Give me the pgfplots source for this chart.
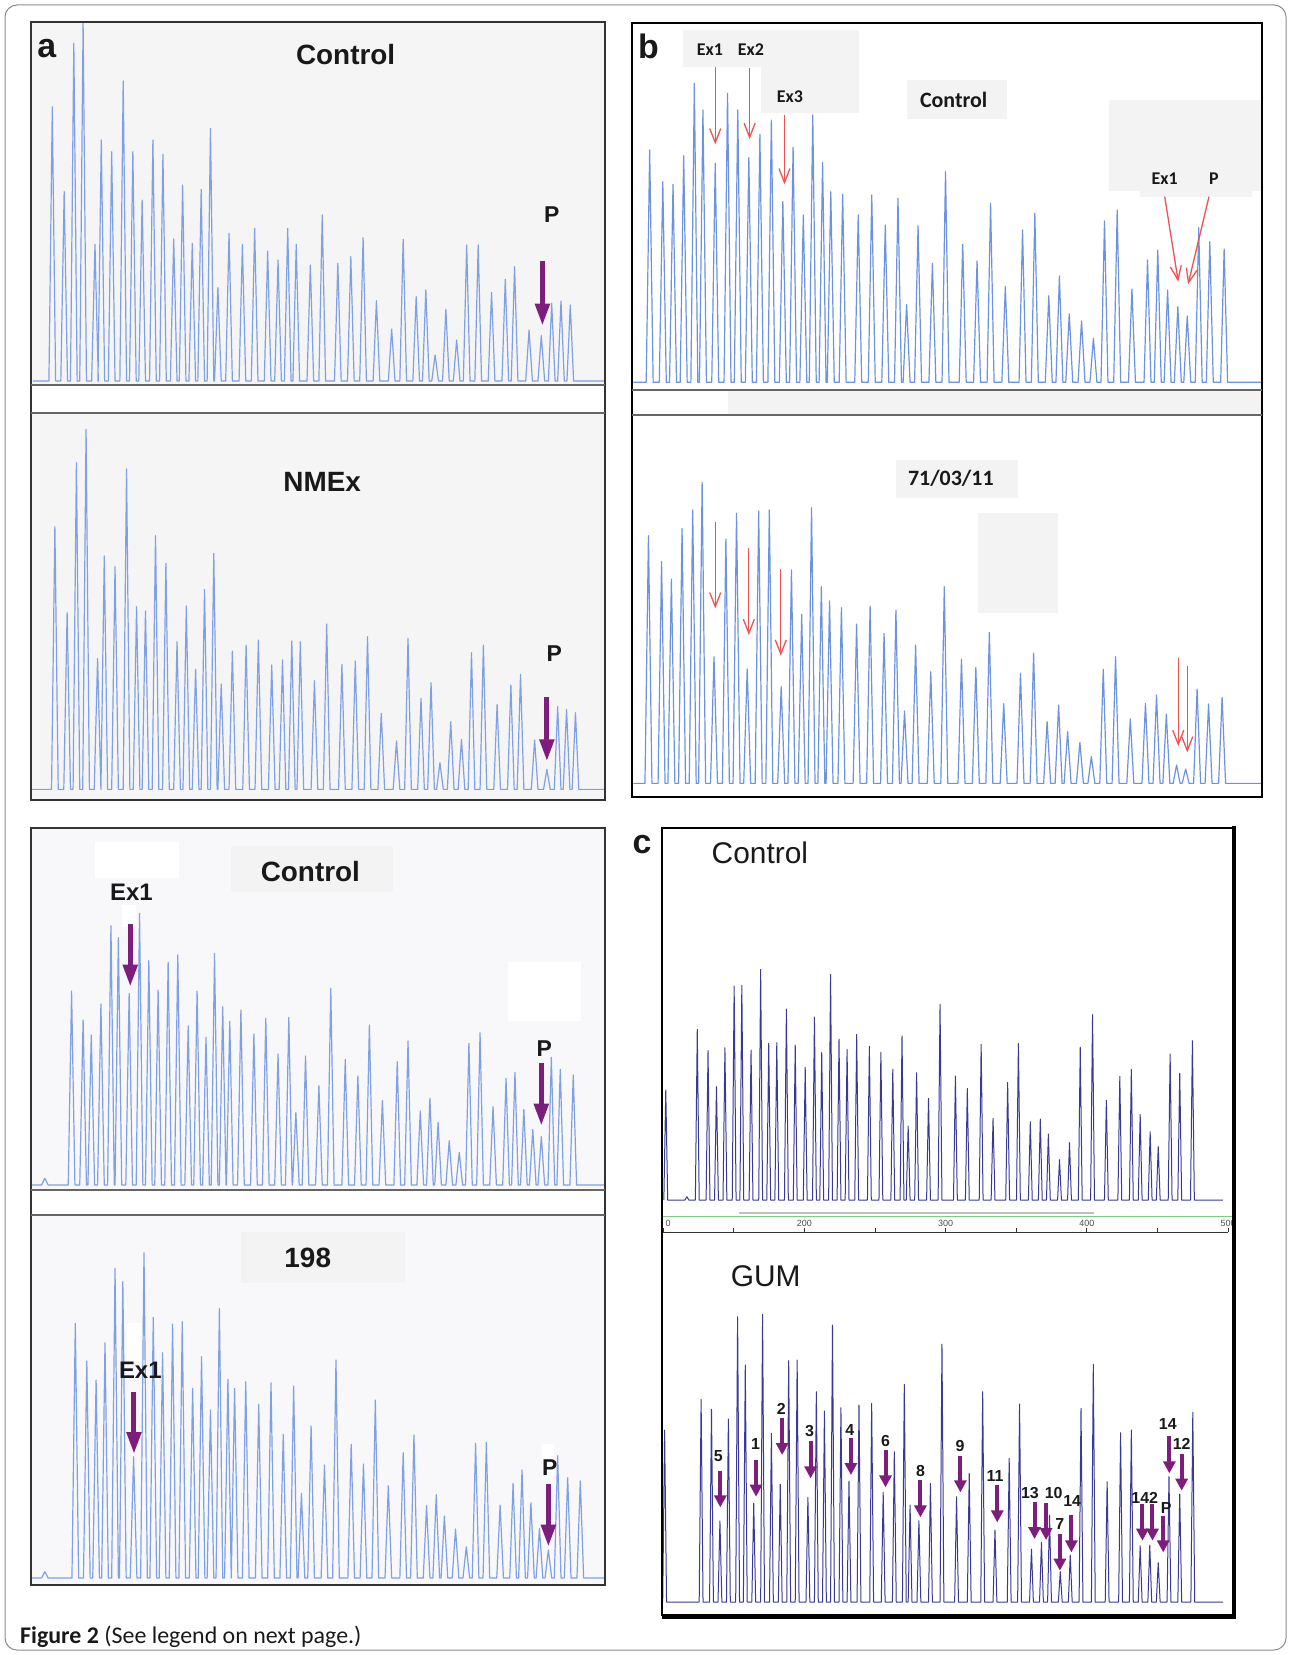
\documentclass[border=0pt]{standalone}
\usepackage{fontspec}
\setmainfont{Liberation Sans}
\newfontfamily\carlito{Carlito}
\usepackage{pgfplots}
\pgfplotsset{compat=1.18}
\usetikzlibrary{arrows.meta}

\definecolor{pkA}{RGB}{128,160,228}
\definecolor{pkB}{RGB}{108,146,224}
\definecolor{pkC}{RGB}{58,58,150}
\definecolor{purp}{RGB}{125,30,125}
\definecolor{redar}{RGB}{238,82,82}
\definecolor{bgA}{RGB}{245,245,245}
\definecolor{bgL}{RGB}{248,247,249}
\definecolor{boxg}{RGB}{243,243,243}
\definecolor{ink}{RGB}{25,25,25}

\newcommand\fsz[1]{\fontsize{#1}{#1}\selectfont}

% one axis per zoomed strip: x0, y0, width, height (px = bp), ymax
\pgfplotsset{
  zoomax/.style n args={5}{scale only axis, hide axis, clip=false, y dir=reverse,
    xmin=0, xmax=1562, ymin=0, ymax=#5,
    width=#3bp, height=#4bp, at={(#1bp,-#2bp)}, anchor=north west},
  peakA/.style={pkA, line width=1.2bp, line join=round, mark=none},
  peakB/.style={pkB, line width=1.2bp, line join=round, mark=none},
  peakC/.style={pkC, line width=1bp, line join=round, mark=none},
}
\tikzset{
  purpar/.style={purp, line width=5bp, -{Triangle[length=22bp,width=14bp]}},
  gumar/.style={purp, line width=4bp, -{Triangle[length=12bp,width=12bp]}},
  redarr/.style={redar, line width=1.3bp, -{Straight Barb[length=14bp,width=11bp]}},
  lab/.style={text=ink, inner sep=0pt},
  numlab/.style={text=ink, inner sep=0pt, font=\fsz{16}\bfseries},
}

% peaks: style, half width, baseline, start x, end x, list of x/top
\newcommand\peaks[6]{%
  \def\acc{}%
  \pgfplotsforeachungrouped \pkx/\pky in {#6}{%
    \pgfmathsetmacro\pkl{\pkx-#2}\pgfmathsetmacro\pkr{\pkx+#2}%
    \edef\acc{\acc(\pkl,#3)(\pkx,\pky)(\pkr,#3)}}%
  \edef\tmp{\noexpand\addplot[#1] coordinates {(#4,#3)\acc(#5,#3)};}%
  \tmp}
\newcommand\gumarr[6]{%
  \node[numlab] at (axis cs:#1,#2) {#3};
  \draw[gumar] (axis cs:#4,#5) -- (axis cs:#4,#6);}

\begin{document}
\begin{tikzpicture}
\begin{scope}[x=1bp, y=-1bp]
  \useasboundingbox (0,0) rectangle (1290,1655);
  % panel a
  \fill[bgA] (31,22) rectangle (605,385);
  \fill[white] (31,385) rectangle (605,413);
  \fill[bgA] (31,413) rectangle (605,800);
  % panel b
  \fill[white] (632,23) rectangle (1262,797);
  \fill[boxg] (728,391) rectangle (1262,414);
  % bottom left
  \fill[bgL] (31,828) rectangle (605,1190);
  \fill[white] (31,1190) rectangle (605,1215);
  \fill[bgL] (31,1215) rectangle (605,1585);
  % panel c
  \fill[white] (662,828) rectangle (1234,1615);
  \draw[green!60!black!50, line width=1bp] (663,1216) -- (1234,1216);
  \draw[black!25, line width=1.5bp] (739,1213) -- (1094,1213);
\end{scope}

% ---------- a, Control
\begin{axis}[zoomax={30}{15}{580}{380}{1140}]
\peaks{peakA}{9}{1098}{8}{1550}{60/275,92/530,118/85,143/25,175/688,192/375,220/410,251/198,277/410,302/555,331/375,358/418,387/672,411/510,437/685,461/523,486/340,506/818,536/655,572/688,605/640,640/708,668/735,694/640,717/688,755/750,787/600,829/745,864/725,897/668,933/857,974/942,1005/673,1040/845,1066/825,1091/1020,1120/883,1149/975,1176/690,1207/690,1243/832,1280/793,1305/755,1344/945,1377/962,1405/865,1430/858,1455/870}
\node[lab, font=\fsz{34}\bfseries] at (axis cs:45,100) {a};
\node[lab, font=\fsz{28}\bfseries] at (axis cs:850,120) {Control};
\node[lab, font=\fsz{23}\bfseries] at (axis cs:1405,598) {P};
\draw[purpar] (axis cs:1380,738) -- (axis cs:1380,932);
\end{axis}

% ---------- a, NMEx
\begin{axis}[zoomax={30}{390}{580}{410}{1230}]
\peaks{peakA}{9}{1198}{5}{1550}{67/410,100/668,125/218,151/118,182/805,200/498,229/530,260/237,287/650,311/663,338/437,366/520,396/755,421/648,446/838,470/598,495/490,515/882,545/783,582/765,615/750,651/825,680/810,705/753,728/755,766/872,799/702,840/823,876/813,909/740,946/970,987/1053,1018/745,1053/925,1080/878,1104/1118,1133/995,1162/1048,1189/788,1221/765,1258/943,1295/885,1321/853,1359/1050,1392/1138,1421/950,1445/958,1469/968}
\node[lab, font=\fsz{28}\bfseries] at (axis cs:787,275) {NMEx};
\node[lab, font=\fsz{23}\bfseries] at (axis cs:1412,790) {P};
\draw[purpar] (axis cs:1392,920) -- (axis cs:1392,1114);
\end{axis}

% ---------- b, Control
\begin{axis}[zoomax={630}{15}{640}{380}{1140}]
\fill[boxg] (axis cs:130,45) rectangle (axis cs:320,155);
\fill[boxg] (axis cs:320,45) rectangle (axis cs:560,295);
\fill[boxg] (axis cs:675,195) rectangle (axis cs:920,312);
\fill[boxg] (axis cs:1170,255) rectangle (axis cs:1540,528);
\fill[boxg] (axis cs:1245,528) rectangle (axis cs:1518,545);
\peaks{peakB}{8.5}{1102}{8}{1545}{48/405,80/500,105/508,131/422,157/205,178/285,208/445,238/235,263/285,290/428,317/358,345/315,373/560,398/397,423/600,446/300,470/442,490/530,519/538,557/600,590/540,623/630,654/550,675/868,703/632,738/745,770/470,812/688,847/738,880/565,916/815,958/645,988/595,1022/842,1048/783,1072/897,1102/918,1131/970,1158/618,1189/585,1225/822,1263/735,1288/705,1312/825,1337/875,1360/903,1388/638,1415/680,1450/702}
\node[lab, font=\fsz{34}\bfseries] at (axis cs:45,95) {b};
\node[lab, font=\carlito\fsz{18}\bfseries] at (axis cs:195,103) {Ex1};
\node[lab, font=\carlito\fsz{18}\bfseries] at (axis cs:295,103) {Ex2};
\node[lab, font=\carlito\fsz{18}\bfseries] at (axis cs:390,245) {Ex3};
\node[lab, font=\carlito\fsz{22}\bfseries] at (axis cs:790,255) {Control};
\node[lab, font=\carlito\fsz{18}\bfseries] at (axis cs:1305,492) {Ex1};
\node[lab, font=\carlito\fsz{18}\bfseries] at (axis cs:1425,490) {P};
\draw[redarr] (axis cs:208,155) -- (axis cs:208,388);
\draw[redarr] (axis cs:292,158) -- (axis cs:292,372);
\draw[redarr] (axis cs:377,300) -- (axis cs:377,508);
\draw[redarr] (axis cs:1305,545) -- (axis cs:1338,800);
\draw[redarr] (axis cs:1413,545) -- (axis cs:1362,808);
\end{axis}

% ---------- b, 71/03/11
\begin{axis}[zoomax={630}{385}{640}{410}{1230}]
\fill[boxg] (axis cs:650,225) rectangle (axis cs:948,338);
\fill[boxg] (axis cs:850,385) rectangle (axis cs:1045,685);
\peaks{peakB}{8.5}{1195}{8}{1545}{45/452,77/530,101/582,127/430,153/375,176/292,205/815,234/462,260/385,286/852,314/378,340/375,369/905,394/555,419/688,443/368,467/605,487/648,516/668,553/717,586/663,620/745,649/676,670/978,697/780,734/860,767/605,809/823,844/848,877/742,912/956,953/865,985/805,1018/1010,1046/960,1068/1040,1098/1072,1126/1115,1155/853,1185/815,1221/1002,1258/955,1285/930,1309/987,1334/1140,1356/1152,1384/912,1412/957,1445/937}
\node[lab, font=\carlito\fsz{22}\bfseries] at (axis cs:783,280) {71/03/11};
\draw[redarr] (axis cs:208,410) -- (axis cs:208,670);
\draw[redarr] (axis cs:290,490) -- (axis cs:290,750);
\draw[redarr] (axis cs:368,553) -- (axis cs:368,812);
\draw[redarr] (axis cs:1338,820) -- (axis cs:1338,1083);
\draw[redarr] (axis cs:1360,842) -- (axis cs:1360,1102);
\end{axis}

% ---------- lower left, Control
\begin{axis}[zoomax={30}{830}{580}{360}{1080}]
\fill[white] (axis cs:175,35) rectangle (axis cs:400,145);
\fill[boxg] (axis cs:540,48) rectangle (axis cs:978,185);
\fill[white] (axis cs:248,225) rectangle (axis cs:285,292);
\fill[white] (axis cs:1288,397) rectangle (axis cs:1485,572);
\peaks{peakA}{9}{1065}{5}{1550}{40/1045,112/483,143/570,165/615,191/522,218/287,238/323,267/490,295/250,320/392,345/480,372/396,398/375,426/588,450/483,474/622,497/370,519/530,538/574,568/540,603/612,635/565,668/672,697/562,716/848,742/678,778/767,810/475,849/688,883/738,914/585,949/812,989/695,1018/633,1051/843,1077/805,1099/877,1129/932,1156/967,1182/640,1212/608,1247/830,1282/745,1306/727,1330/838,1354/898,1377/920,1404/682,1428/718,1463/735}
\node[lab, font=\fsz{28}\bfseries] at (axis cs:755,125) {Control};
\node[lab, font=\fsz{24}\bfseries] at (axis cs:273,188) {Ex1};
\node[lab, font=\fsz{23}\bfseries] at (axis cs:1385,655) {P};
\draw[purpar] (axis cs:270,283) -- (axis cs:270,470);
\draw[purpar] (axis cs:1377,700) -- (axis cs:1377,887);
\end{axis}

% ---------- lower left, 198
\begin{axis}[zoomax={30}{1180}{580}{360}{1080}]
\fill[boxg] (axis cs:568,155) rectangle (axis cs:1010,310);
\fill[white] (axis cs:262,428) rectangle (axis cs:298,545);
\fill[white] (axis cs:1380,792) rectangle (axis cs:1412,900);
\peaks{peakA}{9}{1194}{5}{1550}{40/1175,122/430,153/543,178/600,202/488,229/265,250/305,279/830,307/218,332/412,357/518,384/432,410/425,438/625,462/530,486/690,510/385,533/598,551/625,581/605,616/673,649/608,682/763,710/618,731/940,757/738,793/855,824/540,865/793,898/852,930/660,965/917,1005/818,1034/765,1068/977,1094/944,1116/1008,1146/1047,1175/1100,1200/790,1229/787,1266/975,1301/910,1325/870,1349/968,1372/1045,1396/1110,1421/827,1448/893,1482/903}
\node[lab, font=\fsz{28}\bfseries] at (axis cs:748,235) {198};
\node[lab, font=\fsz{24}\bfseries] at (axis cs:297,570) {Ex1};
\node[lab, font=\fsz{23}\bfseries] at (axis cs:1400,862) {P};
\draw[purpar] (axis cs:280,635) -- (axis cs:280,822);
\draw[purpar] (axis cs:1396,912) -- (axis cs:1396,1100);
\end{axis}

% ---------- c, Control
\begin{axis}[zoomax={660}{820}{600}{420}{1260}]
\peaks{peakC}{5}{1140}{10}{1465}{15/810,70/1130,97/628,125/692,147/800,169/683,193/498,213/496,237/690,262/448,283/670,304/668,329/567,352/675,378/742,402/591,421/698,444/463,466/657,487/688,512/643,545/679,575/697,606/748,630/648,646/918,668/758,699/835,729/553,769/768,800/805,836/673,867/895,905/787,933/670,964/905,990/897,1011/942,1040/1019,1066/968,1094/682,1126/584,1162/841,1197/769,1227/748,1250/883,1276/935,1297/980,1328/702,1353/760,1386/662}
\node[lab, font=\fsz{34}\bfseries] at (axis cs:-47,75) {c};
\node[lab, font=\fsz{30}] at (axis cs:260,97) {Control};
\end{axis}

% ---------- c, size ruler
\begin{axis}[scale only axis, width=565bp, height=8bp, at={(663bp,-1232bp)}, anchor=north west,
  xmin=100, xmax=500, ymin=0, ymax=1, axis x line=top, axis y line=none,
  xtick={100,200,300,400,500}, minor xtick={150,250,350,450},
  xticklabels={\hphantom{10}0,200,300,400,500},
  tick align=outside, major tick length=4bp, minor tick length=4bp,
  axis line style={black!80, line width=0.6bp, -}, tick style={black!80, line width=0.6bp},
  xticklabel style={font=\fsz{9}, text=black!70, inner sep=1bp}]
\end{axis}

% ---------- c, GUM
\begin{axis}[zoomax={660}{1230}{600}{350}{1050}]
\peaks{peakC}{5}{1116}{7}{1465}{12/600,107/508,134/538,156/873,178/567,202/260,222/405,244/820,267/253,290/610,313/763,335/392,357/390,385/802,407/485,428/543,449/285,471/533,492/753,518/525,551/520,581/787,610/665,636/463,651/825,674/872,704/760,734/342,772/800,805/730,840/485,872/900,909/685,936/522,967/957,993/937,1014/855,1042/1025,1068/975,1096/535,1128/403,1164/755,1199/608,1227/600,1250/947,1275/945,1297/998,1325/740,1353/792,1387/547}
\node[lab, font=\fsz{30}] at (axis cs:275,140) {GUM};
\gumarr{152}{677}{5}{157}{722}{832}
\gumarr{249}{643}{1}{250}{690}{800}
\gumarr{316}{538}{2}{318}{563}{675}
\gumarr{389}{603}{3}{392}{633}{745}
\gumarr{494}{600}{4}{497}{625}{735}
\gumarr{587}{633}{6}{587}{660}{772}
\gumarr{678}{723}{8}{678}{750}{862}
\gumarr{781}{648}{9}{782}{677}{787}
\gumarr{872}{737}{11}{878}{765}{877}
\gumarr{963}{790}{13}{975}{815}{927}
\gumarr{1025}{790}{10}{1005}{820}{930}
\gumarr{1041}{882}{7}{1041}{912}{1022}
\gumarr{1073}{813}{14}{1071}{855}{967}
\gumarr{1262}{803}{142}{1256}{822}{932}
\draw[gumar] (axis cs:1282,822) -- (axis cs:1282,932);
\gumarr{1318}{833}{P}{1310}{857}{967}
\gumarr{1322}{582}{14}{1326}{617}{730}
\gumarr{1358}{643}{12}{1358}{672}{782}
\end{axis}

% ---------- frames and caption
\begin{scope}[x=1bp, y=-1bp]
  \draw[black!80, line width=1.5bp] (31,22) rectangle (605,800);
  \draw[black!60, line width=2bp] (31,385) -- (605,385) (31,413) -- (605,413);
  \draw[black, line width=2.5bp] (632,23) rectangle (1262,797);
  \draw[black!60, line width=2bp] (632,390) -- (1262,390) (632,415) -- (1262,415);
  \draw[black!80, line width=1.5bp] (31,828) rectangle (605,1585);
  \draw[black!60, line width=1.5bp] (31,1190) -- (605,1190) (31,1215) -- (605,1215);
  \draw[black, line width=1.5bp] (662,828) rectangle (1234,1615);
  \draw[black, line width=4bp] (1234,826) -- (1234,1617) -- (662,1617);
  \draw[black!45, line width=1bp, rounded corners=12bp] (5,5) rectangle (1286,1650);
  \node[anchor=base west, inner sep=0pt, text=ink, font=\carlito\fsz{24}] at (20,1643)
    {\textbf{Figure 2} (See legend on next page.)};
\end{scope}
\end{tikzpicture}
\end{document}
